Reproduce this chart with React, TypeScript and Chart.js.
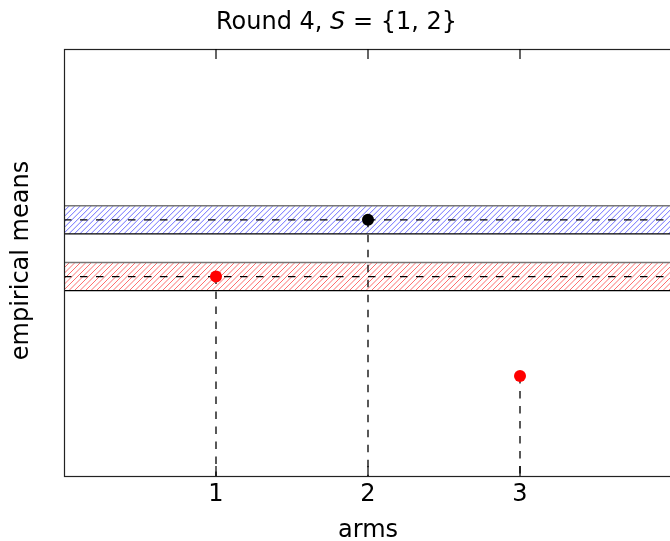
import React, { useEffect, useRef } from 'react';
import { Chart, registerables } from 'chart.js';

Chart.register(...registerables);

// ---- data ----
const arms = [1, 2, 3];
const empiricalMeans = [4.67, 6.0, 2.34];
const armColors = ['#ff0000', '#000000', '#ff0000'];
const bandCenters = [6.0, 4.67]; // blue band (arm 2), red band (arm 1)
const bandHalfWidths = [0.33, 0.33];
const bandHatchColors = ['rgb(110,110,255)', 'rgb(255,110,110)'];
const xRange = [0, 4];
const yRange = [0, 10];
const titleParts = [
  { text: 'Round 4, ', italic: false },
  { text: 'S', italic: true },
  { text: ' = ', italic: false },
  { text: '{1, 2}', italic: false },
];
const xTitle = 'arms';
const yTitle = 'empirical means';

const FONT = '"DejaVu Sans", sans-serif';
const HATCH_SPACING = 5.5;

const hatchPlugin = {
  id: 'hatchFill',
  beforeDatasetsDraw(ch: any) {
    const { ctx, chartArea } = ch;
    const ys = ch.scales.y;
    const { left, right } = chartArea;
    bandCenters.forEach((c, i) => {
      const h = bandHalfWidths[i];
      const yTop = ys.getPixelForValue(c + h);
      const yBot = ys.getPixelForValue(c - h);
      ctx.save();
      ctx.beginPath();
      ctx.rect(left, yTop, right - left, yBot - yTop);
      ctx.clip();
      ctx.beginPath();
      const hgt = yBot - yTop;
      for (let x = left - hgt - HATCH_SPACING; x < right + HATCH_SPACING; x += HATCH_SPACING) {
        ctx.moveTo(x, yBot);
        ctx.lineTo(x + hgt, yTop);
      }
      ctx.strokeStyle = bandHatchColors[i];
      ctx.lineWidth = 1;
      ctx.stroke();
      ctx.restore();
    });
  },
};

const decorPlugin = {
  id: 'decor',
  afterDraw(chart: any) {
    const { ctx, chartArea } = chart;
    const { left, right, top, bottom } = chartArea;
    const xs = chart.scales.x;
    ctx.save();
    // frame
    ctx.strokeStyle = '#222';
    ctx.lineWidth = 1.2;
    ctx.strokeRect(left + 0.5, top + 0.5, right - left, bottom - top);
    // inside ticks
    ctx.beginPath();
    arms.forEach((v) => {
      const px = xs.getPixelForValue(v);
      ctx.moveTo(px, bottom);
      ctx.lineTo(px, bottom - 10);
      ctx.moveTo(px, top);
      ctx.lineTo(px, top + 10);
    });
    ctx.lineWidth = 1.2;
    ctx.strokeStyle = '#000';
    ctx.stroke();

    ctx.fillStyle = '#000';
    // title
    ctx.textBaseline = 'alphabetic';
    ctx.textAlign = 'left';
    const fonts = titleParts.map((p) => (p.italic ? 'italic ' : '') + '24px ' + FONT);
    let total = 0;
    const widths = titleParts.map((p, i) => {
      ctx.font = fonts[i];
      const w = ctx.measureText(p.text).width;
      total += w;
      return w;
    });
    let x = 336.5 - total / 2;
    titleParts.forEach((p, i) => {
      ctx.font = fonts[i];
      ctx.fillText(p.text, x, 29);
      x += widths[i];
    });

    // x title
    ctx.font = '24px ' + FONT;
    ctx.textAlign = 'center';
    ctx.fillText(xTitle, (left + right) / 2, 537);

    // y title
    ctx.translate(28, (top + bottom) / 2 - 2);
    ctx.rotate(-Math.PI / 2);
    ctx.fillText(yTitle, 0, 0);
    ctx.restore();
  },
};

export default function App() {
  const ref = useRef<HTMLCanvasElement>(null);

  useEffect(() => {
    const canvas = ref.current!;
    const datasets: any[] = [];

    // points (drawn on top: first dataset)
    datasets.push({
      label: 'means',
      data: arms.map((a, i) => ({ x: a, y: empiricalMeans[i] })),
      showLine: false,
      pointRadius: 6,
      pointHoverRadius: 6,
      pointBorderWidth: 0,
      pointBackgroundColor: armColors,
      pointBorderColor: armColors,
      borderColor: 'transparent',
    });

    // stems
    arms.forEach((a, i) => {
      datasets.push({
        label: 'stem' + a,
        data: [
          { x: a, y: empiricalMeans[i] },
          { x: a, y: yRange[0] },
        ],
        borderColor: '#000',
        borderWidth: 1.3,
        borderDash: [7.5, 7.5],
        pointRadius: 0,
        fill: false,
      });
    });

    // bands: center dashed line and bounds
    bandCenters.forEach((c, i) => {
      const h = bandHalfWidths[i];
      datasets.push({
        label: 'center' + i,
        data: [
          { x: xRange[0], y: c },
          { x: xRange[1], y: c },
        ],
        borderColor: '#000',
        borderWidth: 1.2,
        borderDash: [7.5, 8.5],
        pointRadius: 0,
        fill: false,
      });
      datasets.push({
        label: 'upper' + i,
        data: [
          { x: xRange[0], y: c + h },
          { x: xRange[1], y: c + h },
        ],
        borderColor: '#777',
        borderWidth: 1.6,
        pointRadius: 0,
        fill: false,
      });
      datasets.push({
        label: 'lower' + i,
        data: [
          { x: xRange[0], y: c - h },
          { x: xRange[1], y: c - h },
        ],
        borderColor: '#000',
        borderWidth: 1.2,
        pointRadius: 0,
        fill: false,
      });
    });

    const chart = new Chart(canvas, {
      type: 'line',
      data: { datasets },
      options: {
        animation: false,
        responsive: true,
        maintainAspectRatio: false,
        layout: { padding: { top: 49, right: 18, left: 0, bottom: 0 } },
        plugins: {
          legend: { display: false },
          title: { display: false },
          tooltip: { enabled: false },
        },
        scales: {
          x: {
            type: 'linear',
            min: xRange[0],
            max: xRange[1],
            afterBuildTicks: (s: any) => {
              s.ticks = arms.map((v) => ({ value: v }));
            },
            afterFit: (s: any) => {
              s.height = 65;
            },
            ticks: {
              autoSkip: false,
              maxRotation: 0,
              padding: 4,
              color: '#000',
              font: { family: FONT, size: 24 },
              callback: (v: any) => String(v),
            },
            grid: { display: false, drawTicks: false },
            border: { display: false },
          },
          y: {
            type: 'linear',
            min: yRange[0],
            max: yRange[1],
            ticks: { display: false },
            afterFit: (s: any) => {
              s.width = 64;
            },
            grid: { display: false, drawTicks: false },
            border: { display: false },
          },
        },
      },
      plugins: [hatchPlugin, decorPlugin],
    } as any);

    return () => chart.destroy();
  }, []);

  return (
    <div
      style={{
        position: 'fixed',
        left: 0,
        top: 0,
        width: 670,
        height: 541,
        overflow: 'hidden',
        background: '#fff',
      }}
    >
      <div style={{ position: 'relative', width: 690, height: 541 }}>
        <canvas ref={ref} />
      </div>
    </div>
  );
}
